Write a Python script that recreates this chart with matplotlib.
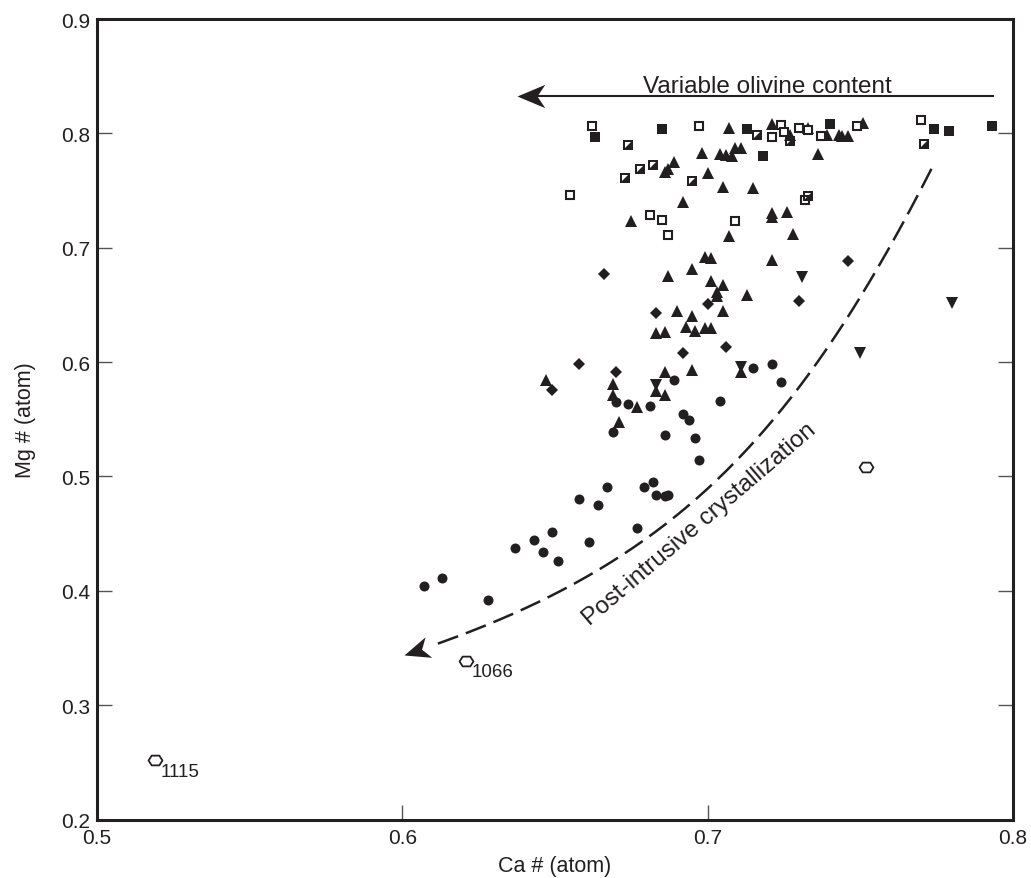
import numpy as np
import matplotlib.pyplot as plt
from matplotlib.path import Path

plt.rcParams['font.family'] = ['Liberation Sans', 'DejaVu Sans']
INK = '#231f20'

# Ca # / Mg # (atom) per symbol group
sq_fill_ca = [0.685, 0.713, 0.740, 0.718, 0.774, 0.779, 0.793, 0.663]
sq_fill_mg = [0.804, 0.804, 0.808, 0.780, 0.804, 0.802, 0.806, 0.797]

sq_open_ca = [0.662, 0.697, 0.724, 0.721, 0.725, 0.730, 0.733, 0.737, 0.749, 0.770,
              0.655, 0.681, 0.685, 0.687, 0.709, 0.732]
sq_open_mg = [0.806, 0.806, 0.807, 0.797, 0.801, 0.805, 0.803, 0.798, 0.806, 0.812,
              0.746, 0.729, 0.724, 0.711, 0.723, 0.742]

sq_half_ca = [0.716, 0.727, 0.771, 0.674, 0.678, 0.682, 0.673, 0.695, 0.733]
sq_half_mg = [0.799, 0.793, 0.791, 0.790, 0.769, 0.772, 0.761, 0.758, 0.745]

tri_up_ca = [0.707, 0.721, 0.727, 0.733, 0.739, 0.743, 0.744, 0.746, 0.751, 0.698,
             0.704, 0.706, 0.708, 0.709, 0.711, 0.736, 0.689, 0.687, 0.686, 0.700,
             0.705, 0.715, 0.692, 0.721, 0.726, 0.721, 0.707, 0.728, 0.675, 0.687,
             0.699, 0.701, 0.721, 0.695, 0.701, 0.705, 0.703, 0.703, 0.713, 0.705,
             0.690, 0.695, 0.693, 0.699, 0.701, 0.696, 0.683, 0.686, 0.695, 0.711,
             0.647, 0.686, 0.683, 0.686, 0.669, 0.669, 0.677, 0.671]
tri_up_mg = [0.805, 0.808, 0.799, 0.805, 0.799, 0.799, 0.798, 0.798, 0.809, 0.783,
             0.782, 0.781, 0.780, 0.787, 0.787, 0.782, 0.775, 0.769, 0.766, 0.765,
             0.753, 0.752, 0.740, 0.730, 0.731, 0.727, 0.710, 0.712, 0.723, 0.675,
             0.692, 0.691, 0.689, 0.681, 0.671, 0.667, 0.661, 0.658, 0.659, 0.645,
             0.645, 0.640, 0.631, 0.630, 0.630, 0.627, 0.625, 0.626, 0.593, 0.591,
             0.584, 0.591, 0.575, 0.571, 0.581, 0.571, 0.561, 0.548]

tri_dn_ca = [0.711, 0.683, 0.731, 0.780, 0.750]
tri_dn_mg = [0.596, 0.580, 0.674, 0.652, 0.608]

dia_ca = [0.666, 0.700, 0.683, 0.706, 0.692, 0.658, 0.670, 0.649, 0.746, 0.730]
dia_mg = [0.677, 0.651, 0.643, 0.613, 0.608, 0.598, 0.591, 0.576, 0.688, 0.653]

circ_ca = [0.715, 0.721, 0.724, 0.689, 0.670, 0.674, 0.681, 0.704, 0.692, 0.694,
           0.669, 0.686, 0.696, 0.697, 0.667, 0.679, 0.682, 0.683, 0.686, 0.687,
           0.658, 0.664, 0.677, 0.649, 0.661, 0.646, 0.651, 0.637, 0.643, 0.607,
           0.613, 0.628]
circ_mg = [0.595, 0.598, 0.583, 0.584, 0.565, 0.563, 0.562, 0.566, 0.555, 0.549,
           0.539, 0.536, 0.534, 0.514, 0.491, 0.491, 0.495, 0.484, 0.483, 0.484,
           0.480, 0.475, 0.455, 0.451, 0.443, 0.434, 0.426, 0.437, 0.444, 0.404,
           0.411, 0.392]

hex_ca = [0.519, 0.621, 0.752]
hex_mg = [0.252, 0.339, 0.508]
hex_labels = ['1115', '1066', '']

# custom markers
half_sq = Path([(-1, -1), (1, -1), (1, 1), (-1, 1), (-1, -1),
                (-0.6, -0.6), (-0.6, 0.6), (0.6, 0.6), (-0.6, -0.6)],
               [1, 2, 2, 2, 79, 1, 2, 2, 79])
hexagon = Path([(-1, 0), (-0.55, 0.7), (0.55, 0.7), (1, 0), (0.55, -0.7),
                (-0.55, -0.7), (-1, 0)], [1, 2, 2, 2, 2, 2, 79])


def stealth(angle):
    # barbed arrow head, tip at the origin, pointing along angle (deg)
    v = np.array([(0, 0), (-1, 0.42), (-0.72, 0), (-1, -0.42), (0, 0)])
    a = np.radians(angle)
    rot = np.array([[np.cos(a), -np.sin(a)], [np.sin(a), np.cos(a)]])
    return Path(v @ rot.T, [1, 2, 2, 2, 79])


fig = plt.figure(figsize=(10.31, 8.79), dpi=100)
ax = fig.add_axes([97 / 1031, 1 - 820.5 / 879, 916 / 1031, 800.5 / 879])
ax.set_xlim(0.5, 0.8)
ax.set_ylim(0.2, 0.9)

ax.plot(circ_ca, circ_mg, 'o', ms=7.2, color=INK, mew=0, ls='none')
ax.plot(dia_ca, dia_mg, 'D', ms=6.4, color=INK, mew=0, ls='none')
ax.plot(tri_up_ca, tri_up_mg, '^', ms=9.2, color=INK, mew=0, ls='none')
ax.plot(tri_dn_ca, tri_dn_mg, 'v', ms=9.2, color=INK, mew=0, ls='none')
ax.plot(sq_fill_ca, sq_fill_mg, 's', ms=7.2, color=INK, mew=0, ls='none')
ax.plot(sq_open_ca, sq_open_mg, 's', ms=6, mfc='white', mec=INK, mew=1.5, ls='none')
ax.plot(sq_half_ca, sq_half_mg, marker=half_sq, ms=7.6, color=INK, mew=0, ls='none')
ax.plot(hex_ca, hex_mg, marker=hexagon, ms=10, mfc='white', mec=INK, mew=1.3, ls='none')
for x, y, lab in zip(hex_ca, hex_mg, hex_labels):
    if lab:
        ax.annotate(lab, (x, y), xytext=(4, -8), textcoords='offset points',
                    ha='left', va='center', fontsize=13.5, color=INK)

# olivine arrow
ax.plot([0.7935, 0.6400], [0.8324, 0.8324], color=INK, lw=1.5)
ax.plot([0.6376], [0.8324], marker=stealth(180), ms=40, color=INK, mew=0)
ax.text(0.7194, 0.8359, 'Variable olivine content', ha='center', va='baseline',
        fontsize=17.5, color=INK)

# curved crystallization arrow (cubic Bezier)
p0 = np.array([0.7733, 0.7690])
c1 = np.array([0.7263, 0.5228])
c2 = np.array([0.6847, 0.4169])
p3 = np.array([0.6006, 0.3438])
t = np.linspace(0, 1, 200)[:, None]
curve = (1 - t) ** 3 * p0 + 3 * (1 - t) ** 2 * t * c1 + 3 * (1 - t) * t ** 2 * c2 + t ** 3 * p3
ax.plot(curve[:192, 0], curve[:192, 1], color=INK, lw=1.8, dashes=(8.6, 3.3),
        dash_capstyle='butt')
d = ax.transData.transform(p3) - ax.transData.transform(c2)
ax.plot([p3[0]], [p3[1]], marker=stealth(np.degrees(np.arctan2(d[1], d[0]))),
        ms=40, color=INK, mew=0)
ax.text(0.6985, 0.4545, 'Post-intrusive crystallization', rotation=40.5,
        rotation_mode='anchor', ha='center', va='baseline', fontsize=17.5, color=INK)

ax.set_xticks([0.5, 0.6, 0.7, 0.8])
ax.set_xticklabels(['0.5', '0.6', '0.7', '0.8'])
ax.set_yticks([0.2, 0.3, 0.4, 0.5, 0.6, 0.7, 0.8, 0.9])
ax.set_yticklabels(['0.2', '0.3', '0.4', '0.5', '0.6', '0.7', '0.8', '0.9'])
ax.tick_params(direction='in', length=11, width=1, color='#555555',
               labelsize=15, labelcolor=INK, top=False, right=True)
ax.tick_params(axis='x', pad=6)
ax.tick_params(axis='y', pad=5)
for s in ax.spines.values():
    s.set_linewidth(2.2)
    s.set_color(INK)

ax.set_xlabel('Ca # (atom)', fontsize=15.5, color=INK, labelpad=6)
ax.set_ylabel('Mg # (atom)', fontsize=15.5, color=INK, labelpad=18)

fig.savefig('out.png', dpi=100)
